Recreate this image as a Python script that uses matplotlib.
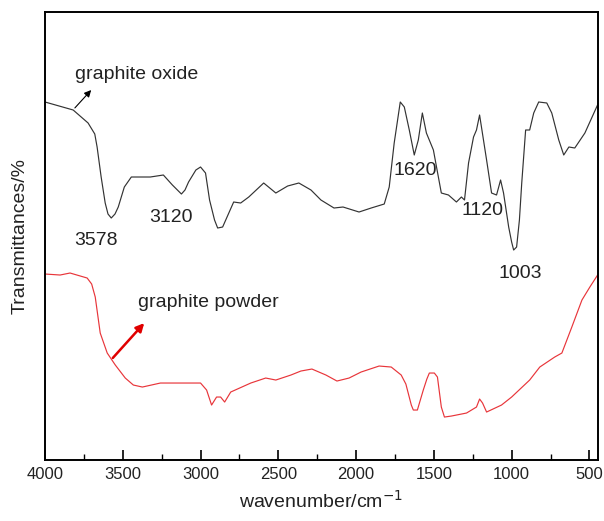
import matplotlib.pyplot as plt
from matplotlib.ticker import MultipleLocator

plt.rcParams['font.family'] = ['Liberation Sans', 'DejaVu Sans']

# graphite oxide spectrum (wavenumber, transmittance a.u.)
oxide_wn = [4000, 3819, 3723, 3680, 3665, 3639, 3613, 3595, 3574, 3550, 3529, 3490, 3445,
            3323, 3239, 3181, 3123, 3100, 3077, 3030, 3000, 2968, 2942, 2910, 2890, 2858,
            2787, 2742, 2690, 2594, 2516, 2440, 2368, 2290, 2226, 2142, 2084, 1981, 1903,
            1819, 1787, 1755, 1716, 1690, 1658, 1626, 1600, 1574, 1548, 1503, 1452, 1406,
            1355, 1323, 1303, 1277, 1245, 1226, 1206, 1181, 1161, 1129, 1097, 1071, 1052,
            1019, 1000, 987, 968, 950, 935, 910, 884, 858, 826, 774, 742, 697, 665, 632,
            594, 529, 471, 439]
oxide_t = [358, 350, 337, 326, 313, 283, 257, 246, 242, 246, 253, 273, 283,
           283, 285, 275, 266, 270, 278, 290, 293, 287, 260, 240, 232, 233,
           258, 257, 263, 277, 267, 274, 277, 270, 260, 252, 253, 248, 252,
           256, 273, 317, 358, 353, 330, 305, 320, 347, 327, 310, 267, 265,
           258, 263, 260, 297, 323, 330, 345, 320, 300, 267, 265, 280, 267,
           233, 218, 210, 213, 240, 277, 330, 330, 347, 358, 357, 347, 320, 305, 313,
           312, 327, 347, 358]

# graphite powder spectrum
powder_wn = [4000, 3903, 3839, 3729, 3700, 3677, 3645, 3600, 3548, 3484, 3432, 3374, 3258,
             3000, 2961, 2929, 2897, 2871, 2845, 2806, 2677, 2581, 2516, 2419, 2355,
             2284, 2194, 2123, 2045, 1968, 1852, 1774, 1710, 1680, 1665, 1645, 1632, 1606,
             1568, 1545, 1529, 1497, 1477, 1452, 1432, 1387, 1290, 1226, 1206, 1187, 1161,
             1065, 1000, 884, 819, 723, 677, 613, 548, 497, 439]
powder_t = [186, 185, 187, 182, 176, 163, 127, 107, 95, 82, 75, 73, 77,
            77, 70, 55, 63, 63, 58, 68, 77, 82, 80, 85, 89,
            91, 85, 79, 82, 88, 94, 93, 85, 76, 67, 55, 50, 50,
            70, 81, 87, 87, 83, 53, 43, 44, 47, 53, 61, 57, 48,
            55, 63, 80, 93, 103, 107, 133, 160, 173, 187]

peak_labels = ['3578', '3120', '1620', '1120', '1003']
peak_x = [3675, 3187, 1621, 1187, 945]
peak_y = [220, 243, 290, 250, 187]

txt = '#222222'
fig = plt.figure(figsize=(6.04, 5.21), dpi=100)
ax = fig.add_axes([0.0745, 0.117, 0.9155, 0.86])

ax.plot(oxide_wn, oxide_t, color='#333333', lw=0.85)
ax.plot(powder_wn, powder_t, color='#e8353a', lw=0.85)

for lab, x, y in zip(peak_labels, peak_x, peak_y):
    ax.text(x, y, lab, fontsize=14, color=txt, ha='center', va='center')

ax.text(3807, 385, 'graphite oxide', fontsize=14, color=txt, va='center')
ax.annotate('', xy=(3691, 372), xytext=(3820, 350),
            arrowprops=dict(arrowstyle='-|>', color='black', lw=0.8, mutation_scale=10))
ax.text(3402, 158, 'graphite powder', fontsize=14, color=txt, va='center')
ax.annotate('', xy=(3350, 139), xytext=(3576, 100),
            arrowprops=dict(arrowstyle='-|>', color='#e00000', lw=1.8, mutation_scale=12))

ax.set_xlim(4000, 445)
ax.set_ylim(0, 448)
ax.xaxis.set_major_locator(MultipleLocator(500))
ax.xaxis.set_minor_locator(MultipleLocator(250))
ax.tick_params(axis='x', which='major', direction='in', length=7, width=1.2,
               labelsize=12, labelcolor=txt, pad=5)
ax.tick_params(axis='x', which='minor', direction='in', length=4, width=1.0)
ax.tick_params(axis='x', top=False)
ax.set_yticks([])
for s in ax.spines.values():
    s.set_linewidth(1.4)

ax.set_xlabel('wavenumber/cm$^{-1}$', fontsize=14, color=txt, labelpad=6)
ax.set_ylabel('Transmittances/%', fontsize=14, color=txt, labelpad=12)

fig.savefig('out.png', dpi=100)
